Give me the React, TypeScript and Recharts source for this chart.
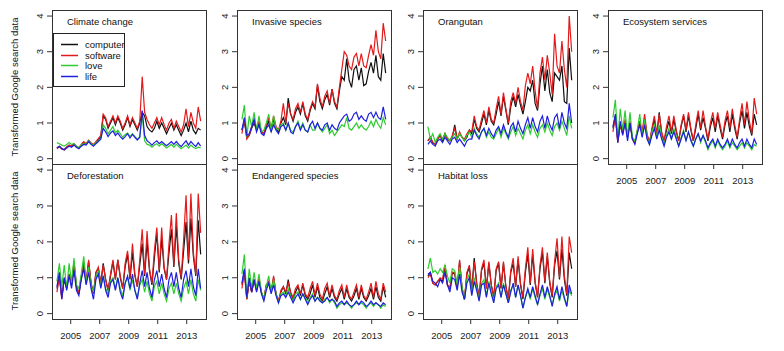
import { LineChart, Line, XAxis, YAxis } from "recharts";

const FONT = "'Liberation Sans', Arial, sans-serif";

// sampled every two months, Jan 2004 .. Dec 2013
const TIME = Array.from({ length: 60 }, (_, i) => 2004.05 + i * 0.168);
const YEAR_TICKS = [2005, 2007, 2009, 2011, 2013];
const Y_TICKS = [0, 1, 2, 3, 4];
const X_DOMAIN = [2003.71, 2014.33];
const Y_DOMAIN = [-0.15, 4.17];

const SERIES = [
  { key: "computer", color: "#111111" },
  { key: "software", color: "#e31a1c" },
  { key: "love", color: "#2ecc2e" },
  { key: "life", color: "#1f1fe0" },
];

const CLIMATE_COMPUTER = [
  0.30, 0.35, 0.28, 0.25, 0.32, 0.38,
  0.35, 0.40, 0.33, 0.30, 0.38, 0.45,
  0.40, 0.50, 0.42, 0.38, 0.45, 0.55,
  0.60, 1.20, 1.10, 0.85, 1.00, 1.15,
  0.95, 1.15, 1.00, 0.80, 0.95, 1.15,
  0.90, 1.10, 0.95, 0.80, 1.00, 1.30,
  1.20, 0.90, 0.80, 0.75, 0.85, 1.05,
  0.85, 1.00, 0.85, 0.70, 0.85, 1.00,
  0.80, 0.95, 0.80, 0.65, 0.80, 1.00,
  0.75, 1.05, 0.80, 0.70, 0.85, 0.80,
];
const CLIMATE_SOFTWARE = [
  0.28, 0.33, 0.27, 0.25, 0.32, 0.38,
  0.36, 0.42, 0.35, 0.30, 0.40, 0.48,
  0.42, 0.52, 0.45, 0.40, 0.48, 0.56,
  0.65, 1.25, 1.15, 0.90, 1.05, 1.20,
  1.00, 1.20, 1.05, 0.85, 1.00, 1.20,
  0.95, 1.15, 1.00, 0.85, 1.05, 2.30,
  1.30, 1.10, 0.95, 0.85, 1.00, 1.15,
  0.95, 1.15, 0.95, 0.80, 1.00, 1.10,
  0.85, 1.05, 0.90, 0.75, 0.95, 1.40,
  0.90, 1.30, 1.00, 0.85, 1.45, 1.05,
];
const CLIMATE_LOVE = [
  0.45, 0.42, 0.38, 0.35, 0.40, 0.45,
  0.40, 0.42, 0.35, 0.32, 0.38, 0.42,
  0.40, 0.50, 0.42, 0.38, 0.45, 0.50,
  0.55, 0.95, 0.85, 0.70, 0.80, 0.90,
  0.72, 0.80, 0.70, 0.60, 0.68, 0.72,
  0.62, 0.70, 0.62, 0.55, 0.60, 1.25,
  0.50, 0.40, 0.38, 0.32, 0.38, 0.42,
  0.35, 0.42, 0.36, 0.30, 0.35, 0.40,
  0.32, 0.40, 0.34, 0.28, 0.33, 0.38,
  0.30, 0.38, 0.32, 0.28, 0.32, 0.30,
];
const CLIMATE_LIFE = [
  0.30, 0.35, 0.28, 0.25, 0.30, 0.35,
  0.32, 0.38, 0.32, 0.28, 0.35, 0.40,
  0.38, 0.48, 0.40, 0.35, 0.42, 0.48,
  0.55, 0.85, 0.75, 0.62, 0.72, 0.78,
  0.65, 0.72, 0.62, 0.55, 0.62, 0.70,
  0.58, 0.68, 0.60, 0.52, 0.60, 1.35,
  0.65, 0.50, 0.45, 0.38, 0.45, 0.50,
  0.42, 0.48, 0.42, 0.36, 0.42, 0.48,
  0.40, 0.48, 0.40, 0.34, 0.42, 0.50,
  0.38, 0.48, 0.40, 0.34, 0.45, 0.35,
];

const INVASIVE_COMPUTER = [
  0.80, 1.05, 0.60, 0.65, 0.85, 1.00,
  0.80, 1.00, 0.75, 0.70, 0.90, 1.05,
  0.80, 1.10, 0.85, 0.75, 1.00, 1.15,
  0.95, 1.70, 1.25, 1.05, 1.30, 1.45,
  1.25, 1.55, 1.20, 1.05, 1.35, 1.55,
  1.40, 2.05, 1.60, 1.40, 1.65, 1.80,
  1.50, 1.95, 1.55, 1.40, 1.90, 2.30,
  2.20, 2.80, 2.20, 2.00, 2.50, 2.60,
  2.20, 2.55, 2.05, 2.10, 2.45, 2.70,
  2.40, 2.90, 2.30, 2.20, 2.95, 2.40,
];
const INVASIVE_SOFTWARE = [
  0.70, 1.10, 0.55, 0.65, 0.90, 1.05,
  0.85, 1.05, 0.75, 0.70, 0.95, 1.15,
  0.85, 1.20, 0.90, 0.80, 1.05, 1.55,
  1.00, 1.55, 1.25, 1.10, 1.40, 1.55,
  1.30, 1.60, 1.25, 1.10, 1.40, 1.60,
  1.45, 2.10, 1.70, 1.45, 1.75, 1.90,
  1.55, 1.95, 1.60, 1.45, 2.00, 2.50,
  3.00, 2.90, 2.60, 2.50, 2.85, 2.95,
  2.60, 2.95, 2.60, 2.55, 2.90, 3.20,
  2.90, 3.60, 3.00, 2.80, 3.80, 3.30,
];
const INVASIVE_LOVE = [
  1.10, 1.50, 0.60, 1.20, 0.90, 1.30,
  0.80, 1.20, 0.75, 0.80, 1.00, 1.25,
  0.75, 1.20, 0.85, 0.80, 0.95, 1.00,
  0.80, 1.00, 0.80, 0.75, 0.90, 1.05,
  0.85, 1.00, 0.80, 0.75, 0.95, 0.80,
  0.80, 1.00, 0.85, 0.75, 0.85, 0.95,
  0.70, 0.80, 0.65, 0.75, 0.85, 0.95,
  0.90, 1.15, 0.85, 0.80, 0.90, 1.00,
  0.85, 0.95, 0.85, 0.80, 0.90, 1.05,
  0.90, 1.10, 0.95, 0.85, 1.15, 0.95,
];
const INVASIVE_LIFE = [
  0.80, 1.15, 0.65, 0.70, 0.90, 1.10,
  0.75, 0.95, 0.70, 0.65, 0.85, 0.95,
  0.75, 0.95, 0.80, 0.70, 0.90, 0.95,
  0.80, 1.00, 0.75, 0.70, 0.90, 1.00,
  0.80, 0.95, 0.80, 0.75, 0.95, 1.05,
  0.85, 1.00, 0.85, 0.80, 0.95, 1.00,
  0.80, 0.95, 0.85, 0.80, 1.00, 1.10,
  1.20, 1.25, 1.05, 1.10, 1.25, 1.30,
  1.10, 1.20, 1.10, 1.05, 1.25, 1.30,
  1.15, 1.30, 1.15, 1.10, 1.45, 1.10,
];

const ORANGUTAN_COMPUTER = [
  0.50, 0.60, 0.45, 0.40, 0.55, 0.65,
  0.50, 0.70, 0.55, 0.50, 0.60, 0.95,
  0.55, 0.70, 0.60, 0.50, 0.60, 0.80,
  0.70, 1.10, 0.85, 0.75, 1.00, 1.25,
  0.95, 1.35, 1.05, 0.95, 1.25, 1.60,
  1.20, 1.75, 1.35, 0.95, 1.45, 1.75,
  1.45, 1.80, 1.50, 1.25, 1.60, 2.00,
  1.90, 2.20, 1.55, 1.35, 2.10, 2.60,
  1.90, 2.50, 1.85, 1.60, 2.40, 2.30,
  2.20, 2.60, 1.60, 1.55, 3.10, 2.20,
];
const ORANGUTAN_SOFTWARE = [
  0.50, 0.60, 0.45, 0.40, 0.55, 0.65,
  0.55, 0.70, 0.55, 0.50, 0.65, 0.85,
  0.55, 0.75, 0.60, 0.55, 0.70, 0.80,
  0.75, 1.20, 0.90, 0.80, 1.10, 1.35,
  1.00, 1.45, 1.10, 1.00, 1.40, 1.75,
  1.25, 1.85, 1.40, 1.00, 1.60, 1.85,
  1.55, 2.00, 1.60, 1.35, 2.05, 2.40,
  2.10, 2.60, 1.90, 1.40, 2.40, 2.85,
  2.20, 2.90, 2.40, 1.80, 3.50, 2.60,
  2.40, 3.30, 2.50, 2.00, 4.00, 3.00,
];
const ORANGUTAN_LOVE = [
  0.90, 0.55, 0.70, 0.45, 0.60, 0.70,
  0.55, 0.70, 0.60, 0.50, 0.60, 0.70,
  0.55, 0.70, 0.60, 0.50, 0.65, 0.75,
  0.60, 0.85, 0.70, 0.60, 0.75, 0.85,
  0.60, 0.75, 0.60, 0.55, 0.70, 0.85,
  0.60, 0.85, 0.70, 0.55, 0.75, 0.90,
  0.65, 0.85, 0.70, 0.55, 0.80, 0.95,
  0.70, 0.95, 0.75, 0.60, 0.85, 0.95,
  0.75, 1.00, 0.80, 0.65, 0.90, 1.00,
  0.80, 1.05, 0.85, 0.65, 1.20, 0.85,
];
const ORANGUTAN_LIFE = [
  0.40, 0.50, 0.40, 0.35, 0.50, 0.55,
  0.45, 0.60, 0.50, 0.40, 0.55, 0.60,
  0.45, 0.55, 0.45, 0.35, 0.50, 0.55,
  0.55, 0.80, 0.65, 0.55, 0.75, 0.85,
  0.65, 0.85, 0.70, 0.60, 0.80, 0.90,
  0.70, 0.95, 0.75, 0.60, 0.90, 1.00,
  0.75, 1.05, 0.85, 0.70, 0.95, 1.15,
  0.85, 1.15, 0.90, 0.75, 1.05, 1.20,
  0.85, 1.20, 0.95, 0.80, 1.15, 1.25,
  0.85, 1.30, 1.00, 0.85, 1.55, 1.00,
];

const ECOSYSTEM_COMPUTER = [
  0.85, 1.20, 0.50, 0.95, 0.70, 1.05,
  0.60, 1.00, 0.55, 0.45, 0.75, 1.00,
  0.70, 1.10, 0.65, 0.45, 0.80, 1.10,
  0.65, 1.30, 0.70, 0.50, 0.80, 1.05,
  0.70, 1.10, 0.75, 0.50, 0.90, 1.20,
  0.75, 1.20, 0.80, 0.50, 0.85, 1.25,
  0.80, 1.15, 0.85, 0.50, 0.90, 1.15,
  0.75, 1.20, 0.85, 0.55, 0.95, 1.20,
  0.75, 1.25, 0.85, 0.55, 1.00, 1.35,
  0.85, 1.30, 0.90, 0.65, 1.25, 0.95,
];
const ECOSYSTEM_SOFTWARE = [
  0.75, 1.15, 0.45, 0.95, 0.70, 1.10,
  0.60, 1.05, 0.55, 0.45, 0.80, 1.05,
  0.75, 1.25, 0.70, 0.45, 0.85, 1.20,
  0.70, 1.25, 0.75, 0.50, 0.90, 1.20,
  0.75, 1.20, 0.80, 0.50, 0.95, 1.25,
  0.80, 1.30, 0.85, 0.50, 0.95, 1.35,
  0.85, 1.35, 0.90, 0.55, 1.00, 1.30,
  0.85, 1.30, 0.95, 0.60, 1.05, 1.35,
  0.85, 1.40, 0.95, 0.60, 1.10, 1.55,
  0.95, 1.60, 1.05, 0.70, 1.70, 1.25,
];
const ECOSYSTEM_LOVE = [
  1.15, 1.65, 0.55, 1.40, 0.80, 1.35,
  0.60, 1.30, 0.60, 0.50, 0.80, 1.25,
  0.65, 1.10, 0.60, 0.40, 0.75, 0.95,
  0.60, 0.95, 0.60, 0.40, 0.65, 0.85,
  0.55, 0.85, 0.60, 0.35, 0.60, 0.80,
  0.50, 0.75, 0.55, 0.35, 0.55, 0.70,
  0.45, 0.65, 0.45, 0.25, 0.40, 0.50,
  0.30, 0.50, 0.35, 0.25, 0.35, 0.50,
  0.30, 0.45, 0.35, 0.25, 0.35, 0.45,
  0.30, 0.45, 0.35, 0.25, 0.40, 0.35,
];
const ECOSYSTEM_LIFE = [
  0.90, 1.25, 0.45, 1.05, 0.65, 1.00,
  0.50, 1.00, 0.55, 0.40, 0.70, 0.95,
  0.60, 0.95, 0.55, 0.40, 0.65, 0.85,
  0.55, 0.80, 0.55, 0.35, 0.60, 0.75,
  0.55, 0.75, 0.55, 0.35, 0.55, 0.75,
  0.50, 0.75, 0.50, 0.35, 0.55, 0.70,
  0.50, 0.65, 0.50, 0.30, 0.45, 0.55,
  0.35, 0.55, 0.40, 0.30, 0.40, 0.55,
  0.35, 0.55, 0.40, 0.30, 0.45, 0.55,
  0.35, 0.55, 0.40, 0.30, 0.55, 0.40,
];

const DEFOREST_COMPUTER = [
  0.70, 1.05, 0.45, 0.95, 0.70, 1.10,
  0.80, 1.35, 0.75, 0.55, 1.00, 1.40,
  0.85, 1.45, 0.85, 0.55, 1.15, 1.25,
  0.85, 1.40, 0.95, 0.65, 1.05, 1.45,
  0.95, 1.50, 1.00, 0.70, 1.30, 1.65,
  0.95, 1.70, 1.05, 0.75, 1.35, 1.95,
  1.05, 2.00, 1.20, 0.80, 1.55, 2.25,
  1.15, 2.10, 1.25, 0.95, 1.70, 2.35,
  1.30, 2.45, 1.40, 0.95, 1.75, 2.55,
  1.40, 2.65, 1.60, 1.05, 2.60, 1.65,
];
const DEFOREST_SOFTWARE = [
  0.60, 1.00, 0.40, 1.00, 0.75, 1.10,
  0.85, 1.45, 0.80, 0.55, 1.05, 1.45,
  0.85, 1.50, 0.85, 0.55, 1.15, 1.30,
  0.85, 1.35, 0.95, 0.65, 1.10, 1.50,
  0.95, 1.50, 1.05, 0.70, 1.40, 1.75,
  1.00, 1.95, 1.10, 0.75, 1.50, 2.35,
  1.10, 2.30, 1.25, 0.85, 1.75, 2.40,
  1.20, 2.40, 1.30, 0.95, 1.95, 2.75,
  1.35, 2.80, 1.50, 1.00, 2.05, 3.30,
  1.50, 3.35, 1.70, 1.10, 3.35, 2.25,
];
const DEFOREST_LOVE = [
  0.90, 1.40, 0.75, 1.35, 0.70, 1.40,
  0.85, 1.55, 0.80, 0.70, 1.10, 1.60,
  0.85, 1.30, 0.80, 0.60, 1.00, 1.20,
  0.75, 1.05, 0.70, 0.55, 0.90, 1.00,
  0.70, 1.00, 0.70, 0.50, 0.85, 1.00,
  0.65, 0.95, 0.65, 0.45, 0.80, 0.95,
  0.60, 0.90, 0.55, 0.35, 0.75, 0.90,
  0.55, 0.85, 0.55, 0.35, 0.70, 0.85,
  0.55, 0.85, 0.55, 0.35, 0.70, 0.90,
  0.55, 0.95, 0.55, 0.35, 0.95, 0.65,
];
const DEFOREST_LIFE = [
  0.75, 1.15, 0.40, 1.00, 0.65, 1.05,
  0.70, 1.20, 0.65, 0.50, 0.95, 1.25,
  0.80, 1.15, 0.70, 0.40, 0.95, 1.10,
  0.70, 1.05, 0.65, 0.45, 0.85, 0.95,
  0.65, 1.00, 0.60, 0.40, 0.85, 1.05,
  0.70, 1.10, 0.65, 0.40, 0.85, 1.20,
  0.75, 1.15, 0.70, 0.45, 0.95, 1.20,
  0.75, 1.10, 0.70, 0.45, 0.95, 1.15,
  0.75, 1.15, 0.70, 0.45, 0.95, 1.20,
  0.75, 1.25, 0.75, 0.50, 1.25, 0.70,
];

const ENDANGERED_COMPUTER = [
  0.80, 1.20, 0.40, 0.90, 0.60, 0.95,
  0.65, 0.95, 0.60, 0.40, 0.80, 0.85,
  0.60, 1.00, 0.55, 0.35, 0.60, 0.75,
  0.55, 0.95, 0.55, 0.40, 0.60, 0.75,
  0.50, 0.80, 0.50, 0.40, 0.55, 0.80,
  0.45, 0.75, 0.45, 0.35, 0.55, 0.75,
  0.45, 0.70, 0.45, 0.35, 0.55, 0.70,
  0.40, 0.70, 0.45, 0.35, 0.50, 0.70,
  0.40, 0.70, 0.45, 0.35, 0.50, 0.70,
  0.40, 0.75, 0.45, 0.35, 0.75, 0.45,
];
const ENDANGERED_SOFTWARE = [
  0.70, 1.15, 0.40, 0.90, 0.60, 0.95,
  0.65, 1.00, 0.60, 0.40, 0.80, 0.90,
  0.60, 1.05, 0.55, 0.35, 0.65, 0.75,
  0.60, 0.85, 0.60, 0.45, 0.70, 0.80,
  0.55, 0.85, 0.55, 0.45, 0.70, 0.90,
  0.50, 0.85, 0.55, 0.40, 0.70, 0.85,
  0.50, 0.80, 0.50, 0.40, 0.65, 0.80,
  0.45, 0.80, 0.50, 0.40, 0.60, 0.80,
  0.45, 0.80, 0.50, 0.40, 0.60, 0.85,
  0.45, 0.90, 0.55, 0.40, 0.85, 0.60,
];
const ENDANGERED_LOVE = [
  1.10, 1.65, 0.45, 1.25, 0.70, 1.15,
  0.70, 1.10, 0.60, 0.40, 0.75, 1.05,
  0.60, 0.95, 0.55, 0.30, 0.55, 0.60,
  0.50, 0.70, 0.50, 0.35, 0.55, 0.60,
  0.40, 0.55, 0.45, 0.30, 0.45, 0.55,
  0.35, 0.45, 0.40, 0.30, 0.40, 0.45,
  0.30, 0.40, 0.30, 0.15, 0.25, 0.30,
  0.25, 0.30, 0.25, 0.15, 0.25, 0.30,
  0.25, 0.30, 0.25, 0.15, 0.25, 0.30,
  0.20, 0.30, 0.25, 0.15, 0.25, 0.20,
];
const ENDANGERED_LIFE = [
  0.85, 1.25, 0.45, 1.00, 0.60, 0.95,
  0.60, 0.90, 0.55, 0.35, 0.65, 0.85,
  0.55, 0.80, 0.50, 0.30, 0.50, 0.55,
  0.45, 0.60, 0.45, 0.30, 0.45, 0.55,
  0.40, 0.55, 0.40, 0.25, 0.40, 0.50,
  0.35, 0.45, 0.35, 0.30, 0.35, 0.45,
  0.35, 0.40, 0.35, 0.20, 0.30, 0.35,
  0.25, 0.35, 0.25, 0.20, 0.25, 0.35,
  0.25, 0.35, 0.30, 0.20, 0.25, 0.35,
  0.25, 0.30, 0.25, 0.20, 0.30, 0.25,
];

const HABITAT_COMPUTER = [
  1.05, 1.15, 0.85, 0.80, 0.90, 0.95,
  0.90, 1.30, 0.80, 0.70, 1.15, 1.10,
  0.70, 1.45, 0.70, 0.40, 1.10, 1.30,
  0.65, 1.55, 0.85, 0.45, 1.20, 1.40,
  0.70, 1.40, 0.80, 0.45, 1.20, 1.40,
  0.70, 1.40, 0.75, 0.40, 1.15, 1.40,
  0.75, 1.50, 0.80, 0.40, 1.15, 1.65,
  0.80, 1.65, 0.85, 0.45, 1.25, 1.70,
  0.85, 1.60, 0.85, 0.45, 1.35, 1.75,
  0.95, 1.80, 0.95, 0.50, 1.70, 1.25,
];
const HABITAT_SOFTWARE = [
  1.00, 1.10, 0.85, 0.80, 0.90, 1.00,
  0.95, 1.35, 0.80, 0.70, 1.15, 1.15,
  0.70, 1.50, 0.70, 0.40, 1.15, 1.35,
  0.65, 1.45, 0.85, 0.45, 1.25, 1.50,
  0.70, 1.45, 0.80, 0.45, 1.25, 1.45,
  0.70, 1.45, 0.75, 0.40, 1.20, 1.55,
  0.75, 1.60, 0.85, 0.45, 1.25, 1.85,
  0.85, 1.80, 0.90, 0.45, 1.35, 1.85,
  0.90, 1.70, 0.90, 0.50, 1.45, 2.10,
  1.00, 2.15, 1.05, 0.55, 2.15, 1.70,
];
const HABITAT_LOVE = [
  1.25, 1.55, 1.15, 1.20, 1.10, 1.25,
  1.15, 1.35, 1.05, 0.85, 1.25, 1.20,
  0.80, 1.30, 0.75, 0.40, 0.95, 1.10,
  0.55, 1.00, 0.70, 0.40, 0.85, 0.95,
  0.50, 0.90, 0.60, 0.35, 0.75, 0.85,
  0.45, 0.85, 0.55, 0.30, 0.65, 0.80,
  0.45, 0.80, 0.50, 0.15, 0.45, 0.65,
  0.40, 0.70, 0.45, 0.25, 0.50, 0.70,
  0.40, 0.70, 0.45, 0.25, 0.50, 0.65,
  0.35, 0.65, 0.40, 0.20, 0.65, 0.50,
];
const HABITAT_LIFE = [
  1.10, 1.15, 0.90, 0.85, 0.75, 0.95,
  0.85, 1.15, 0.80, 0.60, 1.00, 0.95,
  0.65, 1.10, 0.60, 0.40, 0.85, 1.00,
  0.50, 0.90, 0.65, 0.35, 0.80, 0.85,
  0.45, 0.85, 0.55, 0.30, 0.70, 0.80,
  0.45, 0.80, 0.55, 0.30, 0.60, 0.85,
  0.45, 0.80, 0.50, 0.15, 0.45, 0.70,
  0.45, 0.75, 0.50, 0.25, 0.55, 0.80,
  0.45, 0.75, 0.50, 0.20, 0.55, 0.75,
  0.40, 0.75, 0.45, 0.20, 0.80, 0.55,
];

const PANELS = [
  { title: "Climate change", left: 52, top: 10, h: 154, xAxis: false, series: [CLIMATE_COMPUTER, CLIMATE_SOFTWARE, CLIMATE_LOVE, CLIMATE_LIFE] },
  { title: "Invasive species", left: 237, top: 10, h: 154, xAxis: false, series: [INVASIVE_COMPUTER, INVASIVE_SOFTWARE, INVASIVE_LOVE, INVASIVE_LIFE] },
  { title: "Orangutan", left: 423, top: 10, h: 154, xAxis: false, series: [ORANGUTAN_COMPUTER, ORANGUTAN_SOFTWARE, ORANGUTAN_LOVE, ORANGUTAN_LIFE] },
  { title: "Ecosystem services", left: 608, top: 10, h: 154, xAxis: true, series: [ECOSYSTEM_COMPUTER, ECOSYSTEM_SOFTWARE, ECOSYSTEM_LOVE, ECOSYSTEM_LIFE] },
  { title: "Deforestation", left: 52, top: 164, h: 155, xAxis: true, series: [DEFOREST_COMPUTER, DEFOREST_SOFTWARE, DEFOREST_LOVE, DEFOREST_LIFE] },
  { title: "Endangered species", left: 237, top: 164, h: 155, xAxis: true, series: [ENDANGERED_COMPUTER, ENDANGERED_SOFTWARE, ENDANGERED_LOVE, ENDANGERED_LIFE] },
  { title: "Habitat loss", left: 423, top: 164, h: 155, xAxis: true, series: [HABITAT_COMPUTER, HABITAT_SOFTWARE, HABITAT_LOVE, HABITAT_LIFE] },
];

const PLOT_W = 154;
const Y_AXIS_W = 50;
const X_AXIS_H = 30;

function buildRows(series: number[][]) {
  return TIME.map((t, i) => {
    const row: Record<string, number> = { t };
    SERIES.forEach((s, j) => { row[s.key] = series[j][i]; });
    return row;
  });
}

// R-style y labels, turned on their side
function YTick({ x, y, payload }: { x?: number; y?: number; payload?: { value: number } }) {
  const tx = (x ?? 0) - 2.3;
  return (
    <text x={tx} y={y} transform={`rotate(-90 ${tx} ${y})`} textAnchor="middle"
      fontSize={9.5} fontFamily={FONT} fill="#222">
      {payload?.value}
    </text>
  );
}

function Panel({ p }: { p: (typeof PANELS)[number] }) {
  const data = buildRows(p.series);
  return (
    <>
      <div style={{ position: "absolute", left: p.left - Y_AXIS_W, top: p.top }}>
        <LineChart width={Y_AXIS_W + PLOT_W} height={p.h + (p.xAxis ? X_AXIS_H : 0)} data={data}
          margin={{ top: 0, right: 0, bottom: 0, left: 0 }}>
          <XAxis type="number" dataKey="t" domain={X_DOMAIN} ticks={YEAR_TICKS} allowDataOverflow
            hide={!p.xAxis} height={X_AXIS_H} tickSize={5} tickMargin={8.5} axisLine={false}
            interval={0} tick={{ fontSize: 9.5, fontFamily: FONT, fill: "#222" }} tickLine={{ stroke: "#333" }} />
          <YAxis type="number" domain={Y_DOMAIN} ticks={Y_TICKS} allowDataOverflow width={Y_AXIS_W}
            tickSize={5} axisLine={false} interval={0} tick={<YTick />} tickLine={{ stroke: "#333" }} />
          {SERIES.map((s) => (
            <Line key={s.key} dataKey={s.key} type="linear" stroke={s.color} strokeWidth={1.2}
              dot={false} isAnimationActive={false} />
          ))}
        </LineChart>
      </div>
      <div style={{
        position: "absolute", left: p.left, top: p.top, width: PLOT_W + 1, height: p.h + 1,
        boxSizing: "border-box", border: "1px solid #333", pointerEvents: "none",
      }} />
      <div style={{
        position: "absolute", left: p.left + 15, top: p.top + 6, fontSize: 9.5, lineHeight: "11px",
        fontFamily: FONT, color: "#111", whiteSpace: "nowrap",
      }}>{p.title}</div>
    </>
  );
}

function LegendBox() {
  return (
    <div style={{
      position: "absolute", left: 53, top: 33, width: 72, height: 54, boxSizing: "border-box",
      border: "1px solid #222", background: "#fff", fontFamily: FONT, fontSize: 9.5,
    }}>
      {SERIES.map((s, i) => (
        <div key={s.key} style={{ position: "absolute", left: 0, top: 5 + i * 10.6, height: 11, display: "flex", alignItems: "center" }}>
          <svg width={30} height={11}>
            <line x1={7} x2={24} y1={5.5} y2={5.5} stroke={s.color} strokeWidth={1.5} />
          </svg>
          <span style={{ marginLeft: 1, lineHeight: "11px", color: "#111" }}>{s.key}</span>
        </div>
      ))}
    </div>
  );
}

function YLabel({ cy }: { cy: number }) {
  return (
    <div style={{
      position: "absolute", left: 14, top: cy, transform: "translate(-50%, -50%) rotate(-90deg)",
      fontFamily: FONT, fontSize: 9.5, whiteSpace: "nowrap", color: "#111",
    }}>Transformed Google search data</div>
  );
}

export default function App() {
  return (
    <div style={{ position: "absolute", left: 0, top: 0, width: 784, height: 351, background: "#fff", overflow: "hidden" }}>
      {PANELS.map((p) => <Panel key={p.title} p={p} />)}
      <LegendBox />
      <YLabel cy={87} />
      <YLabel cy={241} />
    </div>
  );
}
